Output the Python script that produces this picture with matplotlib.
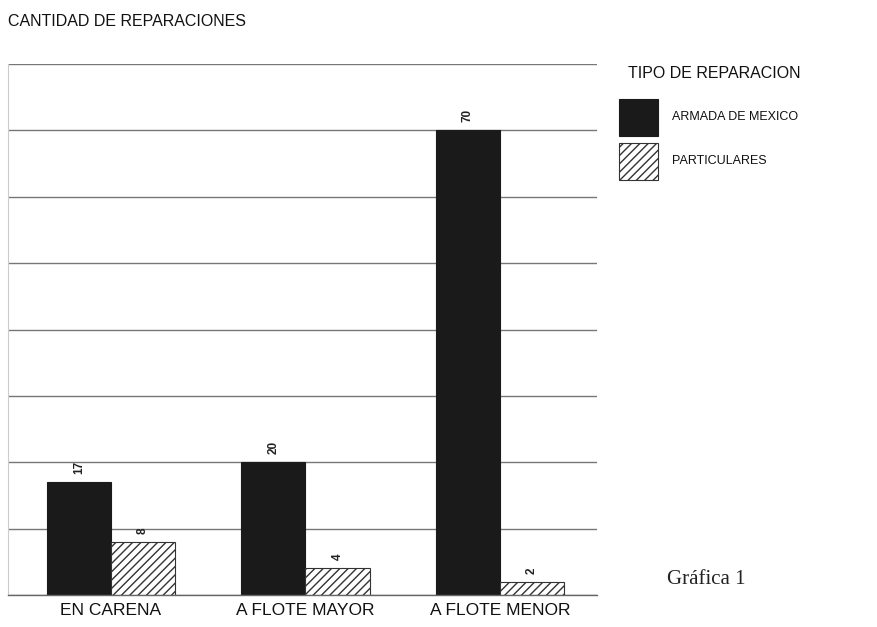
import matplotlib
matplotlib.use("Agg")
import matplotlib.pyplot as plt
import numpy as np
from matplotlib.patches import Rectangle

categories = ["EN CARENA", "A FLOTE MAYOR", "A FLOTE MENOR"]
armada = [17, 20, 70]
particulares = [8, 4, 2]
series_names = ["ARMADA DE MEXICO", "PARTICULARES"]

plt.rcParams['font.family'] = ['Liberation Sans', 'DejaVu Sans']

fig = plt.figure(figsize=(8.77, 6.27), dpi=100)
ax = fig.add_axes([8/877, 32/627, 589/877, 531/627])

x = np.arange(len(categories))
w = 0.33
b1 = ax.bar(x - w/2, armada, w, color='#1a1a1a', edgecolor='#1a1a1a', linewidth=0.8)
b2 = ax.bar(x + w/2, particulares, w, color='white', edgecolor='#333333', hatch='////', linewidth=0.8)

for bars, vals in ((b1, armada), (b2, particulares)):
    for r, v in zip(bars, vals):
        ax.text(r.get_x() + r.get_width()/2, v + 1.2, str(v), rotation=90,
                ha='center', va='bottom', fontsize=8.5, fontweight='bold', color='#222222')

ax.set_xlim(-0.53, 2.5)
ax.set_ylim(0, 80)
ax.set_yticks(np.arange(0, 81, 10))
ax.set_yticklabels([])
ax.tick_params(axis='y', length=0)
ax.set_xticks(x)
ax.set_xticklabels(categories, fontsize=12.5, color='#111111')
ax.tick_params(axis='x', length=0, pad=6)
ax.grid(axis='y', color='#777777', linewidth=1.0)
ax.set_axisbelow(True)
for s in ['top', 'right']:
    ax.spines[s].set_visible(False)
ax.spines['left'].set_color('#cccccc')
ax.spines['left'].set_linewidth(0.8)
ax.spines['bottom'].set_color('#666666')
ax.spines['bottom'].set_linewidth(1.0)

fig.text(8/877, 1 - 22/627, "CANTIDAD DE REPARACIONES", fontsize=11.5, ha='left', va='center', color='#111111')

# legend drawn manually in figure coordinates
fig.text(628/877, 1 - 73/627, "TIPO DE REPARACION", fontsize=11.5, ha='left', va='center', color='#111111')
styles = [dict(facecolor='#1a1a1a', edgecolor='#1a1a1a'),
          dict(facecolor='white', edgecolor='#333333', hatch='////')]
tops = [99, 143]
for name, st, t in zip(series_names, styles, tops):
    fig.add_artist(Rectangle((619/877, 1 - (t + 37)/627), 39/877, 37/627,
                             transform=fig.transFigure, linewidth=0.8, **st))
    fig.text(672/877, 1 - (t + 18)/627, name, fontsize=9, ha='left', va='center', color='#111111')

fig.text(706/877, 1 - 580/627, "Gráfica 1", fontsize=15, ha='center', va='center',
         family=['Liberation Serif', 'DejaVu Serif'], color='#222222')

fig.savefig("out.png", dpi=100)
